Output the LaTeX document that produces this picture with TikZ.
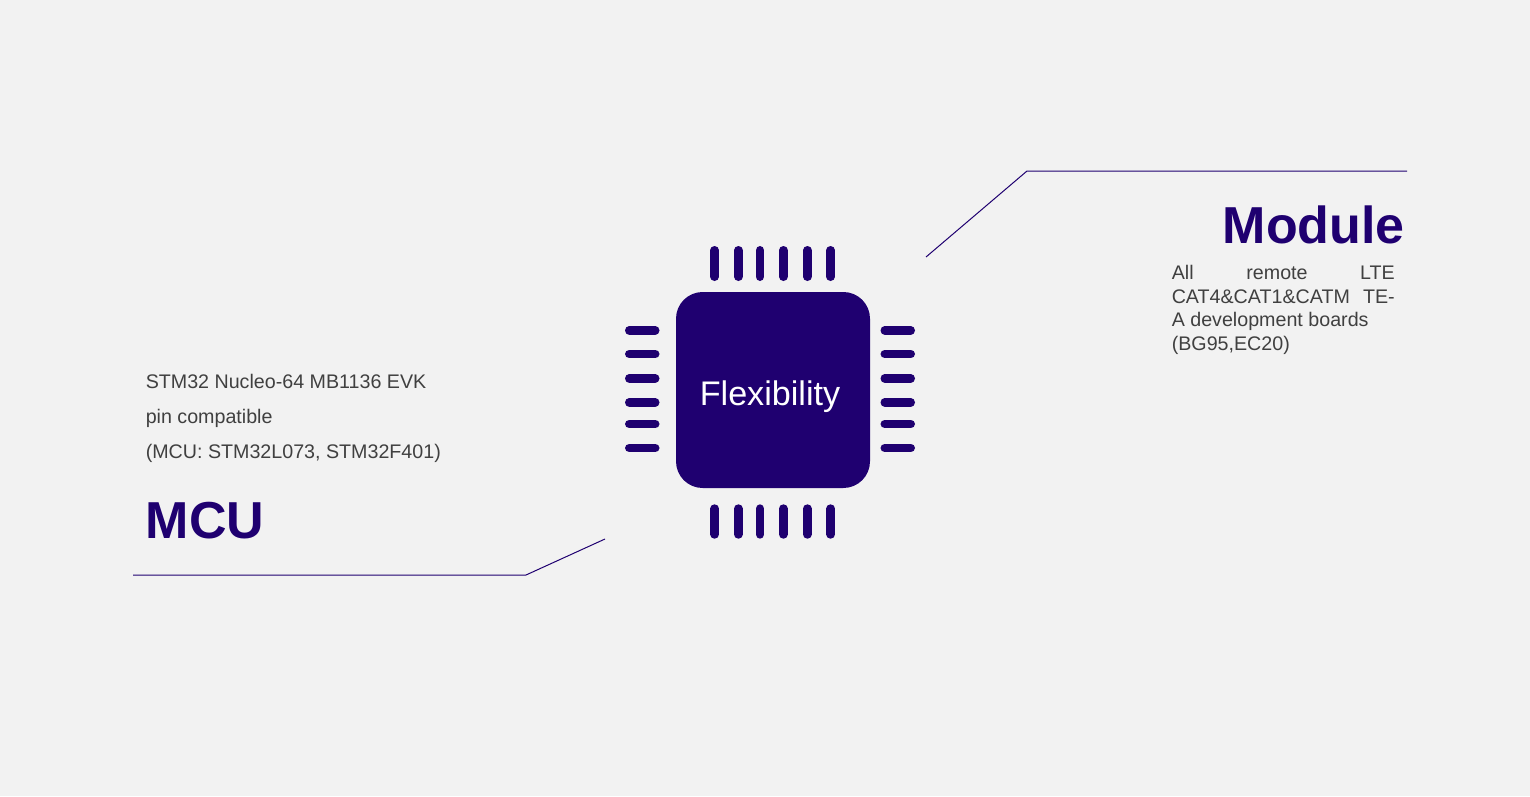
\documentclass[tikz,border=0pt]{standalone}
\usepackage{fontspec}
\setmainfont{Liberation Sans}
\definecolor{bg}{HTML}{F2F2F2}
\definecolor{deep}{HTML}{1F0070}
\definecolor{txt}{HTML}{404040}
\tikzset{
 px/.style={x=0.75pt,y=-0.75pt},
 hpin/.style={line width=8.6*0.75pt,line cap=round,draw=deep},
 vpin/.style={line width=8.6*0.75pt,line cap=round,draw=deep},
 lead/.style={draw=deep,line width=0.75pt},
 title/.style={inner sep=0,text=deep,font=\fontsize{39pt}{39pt}\selectfont\bfseries},
 bodyfont/.style={inner sep=0,text=txt,font=\fontsize{14.75pt}{18pt}\selectfont},
 body/.style={bodyfont,anchor=base west},
}
\begin{document}
\begin{tikzpicture}[px]
\useasboundingbox (0,0) rectangle (1530,796);
\fill[bg] (0,0) rectangle (1530,796);
\node[fill=deep,draw=none,rounded corners=20pt,minimum width=194*0.75pt,minimum height=196*0.75pt,inner sep=0] (chip) at (773,390) {};
\node[inner sep=0,text=white,font=\fontsize{25.6pt}{26pt}\selectfont,anchor=base] (flex) at (770,405) {Flexibility};
\foreach \x in {714.7,738.3,760,783.3,807.3,830.7}{
 \draw[vpin] (\x,250.3) -- (\x,276.7);
 \draw[vpin] (\x,508.6) -- (\x,534.4);
}
\foreach \y in {330.3,354,378.3,402.3,424,448}{
 \draw[hpin] (629.3,\y) -- (655.2,\y);
 \draw[hpin] (884.8,\y) -- (910.7,\y);
}
\coordinate (ma) at (926,257); \coordinate (mb) at (1027,171); \coordinate (mc) at (1407,171);
\draw[lead] (ma) -- (mb) -- (mc);
\coordinate (ca) at (605,539); \coordinate (cb) at (526,575); \coordinate (cc) at (133,575);
\draw[lead] (ca) -- (cb) -- (cc);
\node[title,anchor=base east] (module) at (1405,243) {Module};
\node[title,anchor=base west] (mcu) at (145.5,538) {MCU};
\node[body] (a1) at (1171.5,279) {All};
\node[bodyfont,anchor=base] (a2) at (1277,279) {remote};
\node[bodyfont,anchor=base east] (a3) at (1395,279) {LTE};
\node[body] (b1) at (1171.5,303) {CAT4\&CAT1\&CATM};
\node[bodyfont,anchor=base east] (b2) at (1395,303) {TE-};
\node[body] (c) at (1171.5,326) {A development boards};
\node[body] (d) at (1171.5,350) {(BG95,EC20)};
\node[body] (l1) at (145.5,388) {STM32 Nucleo-64 MB1136 EVK};
\node[body] (l2) at (145.5,423) {pin compatible};
\node[body] (l3) at (145.5,458) {(MCU: STM32L073, STM32F401)};
\end{tikzpicture}
\end{document}
